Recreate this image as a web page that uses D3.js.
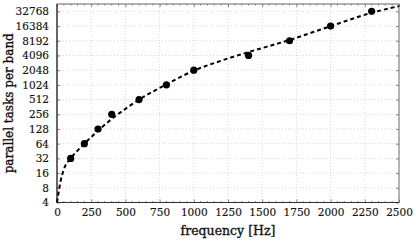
<!DOCTYPE html>
<html>
<head>
<meta charset="utf-8">
<script src="https://cdn.jsdelivr.net/npm/d3@7"></script>
<style>
    body { margin: 0; background: #fff; }
    svg { display: block; }
    .tick-label { font-family: 'DejaVu Serif', serif; font-size: 10.5px; fill: #111; stroke: #111; stroke-width: 0.15px; }
    .axis-title { font-family: 'DejaVu Serif', serif; font-size: 12.5px; fill: #111; stroke: #111; stroke-width: 0.35px; }
</style>
</head>
<body>
<svg id="chart" width="416" height="242"></svg>
<script>
// measured points
const freqs = [100, 200, 300, 400, 600, 800, 1000, 1400, 1700, 2000, 2300];
const tasks = [32, 64, 128, 256, 512, 1024, 2048, 4096, 8192, 16384, 32768];

// dashed fit curve
const fitFreqs = [0, 10, 25, 50, 100, 150, 200, 300, 400, 500, 600, 800, 1000, 1200, 1400, 1700, 2000, 2300, 2500];
const fitTasks = [4, 6, 10.5, 19, 32, 46, 64, 118, 205, 330, 510, 1050, 2000, 3200, 4800, 8500, 16300, 30600, 42000];

const xTicks = [0, 250, 500, 750, 1000, 1250, 1500, 1750, 2000, 2250, 2500];
const yTicks = [4, 8, 16, 32, 64, 128, 256, 512, 1024, 2048, 4096, 8192, 16384, 32768];

const chartProperties = {
    xMin: 57, xMax: 399,
    yMin: 4, yMax: 202.5
};

const svg = d3.select('#chart');

const xScale = d3.scaleLinear().domain([0, 2500])
    .range([chartProperties.xMin, chartProperties.xMax]);
const yScale = d3.scaleLog().base(2).domain([4, Math.pow(2, 15.5)])
    .range([chartProperties.yMax, chartProperties.yMin]);

const minorXTicks = d3.range(0, 2501, 50).filter(v => xTicks.indexOf(v) < 0);

function appendGrid() {
    const g = svg.append('g').attr('class', 'grid');
    g.selectAll('line.gx').data(xTicks.slice(1, -1)).enter().append('line')
        .attr('x1', d => xScale(d)).attr('x2', d => xScale(d))
        .attr('y1', chartProperties.yMin).attr('y2', chartProperties.yMax)
        .attr('stroke', '#cfcfcf').attr('stroke-width', 0.8).attr('stroke-dasharray', '1,2');
    g.selectAll('line.gy').data(yTicks.slice(1)).enter().append('line')
        .attr('y1', d => yScale(d)).attr('y2', d => yScale(d))
        .attr('x1', chartProperties.xMin).attr('x2', chartProperties.xMax)
        .attr('stroke', '#cfcfcf').attr('stroke-width', 0.8).attr('stroke-dasharray', '1,2');
}

function appendAxes() {
    const bottom = svg.append('g')
        .attr('transform', `translate(0 ${chartProperties.yMax})`);
    bottom.call(d3.axisBottom(xScale).tickValues(xTicks).tickFormat(d => d).tickSize(-3).tickPadding(6));
    const top = svg.append('g')
        .attr('transform', `translate(0 ${chartProperties.yMin})`);
    top.call(d3.axisTop(xScale).tickValues(xTicks).tickSize(-3).tickFormat(''));
    // minor ticks
    [chartProperties.yMax, chartProperties.yMin].forEach((y, i) => {
        svg.append('g').selectAll('line').data(minorXTicks).enter().append('line')
            .attr('x1', d => xScale(d)).attr('x2', d => xScale(d))
            .attr('y1', y).attr('y2', i === 0 ? y - 1.5 : y + 1.5)
            .attr('stroke', '#666').attr('stroke-width', 0.8);
    });

    const left = svg.append('g')
        .attr('transform', `translate(${chartProperties.xMin} 0)`);
    left.call(d3.axisLeft(yScale).tickValues(yTicks).tickFormat(d => d).tickSize(-3).tickPadding(8));
    const right = svg.append('g')
        .attr('transform', `translate(${chartProperties.xMax} 0)`);
    right.call(d3.axisRight(yScale).tickValues(yTicks).tickSize(-3).tickFormat(''));

    svg.selectAll('.domain').remove();
    svg.selectAll('.tick line').attr('stroke', '#666').attr('stroke-width', 0.8);
    svg.selectAll('.tick text').attr('class', 'tick-label').attr('font-size', null).attr('font-family', null);

    svg.append('rect')
        .attr('x', chartProperties.xMin).attr('y', chartProperties.yMin)
        .attr('width', chartProperties.xMax - chartProperties.xMin)
        .attr('height', chartProperties.yMax - chartProperties.yMin)
        .attr('fill', 'none').attr('stroke', '#666').attr('stroke-width', 1);
    svg.append('line')
        .attr('x1', chartProperties.xMin).attr('x2', chartProperties.xMin)
        .attr('y1', chartProperties.yMin).attr('y2', chartProperties.yMax)
        .attr('stroke', '#333').attr('stroke-width', 1.2);
    svg.append('line')
        .attr('x1', chartProperties.xMin).attr('x2', chartProperties.xMax)
        .attr('y1', chartProperties.yMax).attr('y2', chartProperties.yMax)
        .attr('stroke', '#333').attr('stroke-width', 1.2);
}

function appendTitles() {
    svg.append('text').attr('class', 'axis-title')
        .attr('x', (chartProperties.xMin + chartProperties.xMax) / 2).attr('y', 235)
        .attr('text-anchor', 'middle').text('frequency [Hz]');
    svg.append('text').attr('class', 'axis-title')
        .attr('transform', `translate(13 ${(chartProperties.yMin + chartProperties.yMax) / 2}) rotate(-90)`)
        .attr('text-anchor', 'middle').style('font-size', '12px').text('parallel tasks per band');
}

function appendData() {
    const fit = fitFreqs.map((f, i) => ({x: f, y: fitTasks[i]}));
    const lineGen = d3.line().x(d => xScale(d.x)).y(d => yScale(d.y)).curve(d3.curveMonotoneX);
    svg.append('path').attr('d', lineGen(fit))
        .attr('fill', 'none').attr('stroke', '#000')
        .attr('stroke-width', 2).attr('stroke-dasharray', '4,3');
    svg.append('g').selectAll('circle').data(freqs).enter().append('circle')
        .attr('cx', d => xScale(d))
        .attr('cy', (d, i) => yScale(tasks[i]))
        .attr('r', 3.6).attr('fill', '#000');
}

appendGrid();
appendAxes();
appendTitles();
appendData();
</script>
</body>
</html>
